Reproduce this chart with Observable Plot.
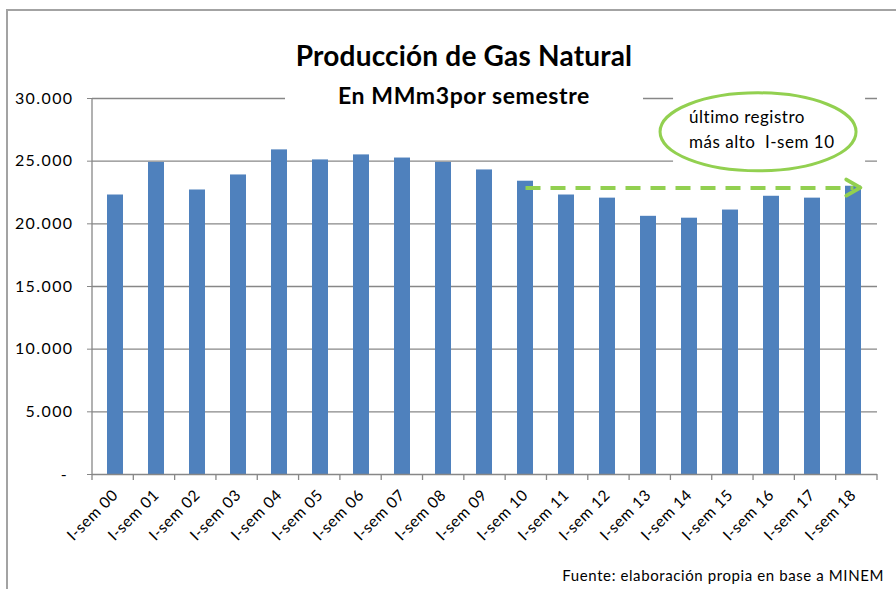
<!DOCTYPE html>
<html>
<head>
<meta charset="utf-8">
<script src="https://cdn.jsdelivr.net/npm/d3@7"></script>
<script src="https://cdn.jsdelivr.net/npm/@observablehq/plot@0.6"></script>
<style>
  html, body { margin: 0; padding: 0; background: #fff; }
  #wrap { position: relative; width: 896px; height: 589px; overflow: hidden; font-family: Lato, "Open Sans", sans-serif; }
  #frame { position: absolute; left: 6px; top: 9px; width: 1200px; height: 1200px; border-left: 2px solid #a3a3a3; border-top: 2px solid #a3a3a3; }
  #chart { position: absolute; left: 0; top: 0; }
  #head { position: absolute; left: 285px; width: 358px; top: 38px; height: 72px; background: #fff; text-align: center; color: #000; font-weight: 700; }
  #title { font-size: 28px; line-height: 34px; letter-spacing: 0.2px; }
  #subtitle { font-size: 23px; line-height: 30px; letter-spacing: 0.6px; margin-top: 8px; }
  #caption { position: absolute; right: 12px; top: 566px; font-size: 15px; letter-spacing: 0.6px; color: #000; }
</style>
</head>
<body>
<div id="wrap">
  <div id="frame"></div>
  <div id="chart"></div>
  <div id="head">
    <div id="title">Producción de Gas Natural</div>
    <div id="subtitle">En MMm3por semestre</div>
  </div>
  <div id="caption">Fuente: elaboración propia en base a MINEM</div>
</div>
<script>
// ---- data ----
const categories = ["I-sem 00","I-sem 01","I-sem 02","I-sem 03","I-sem 04","I-sem 05","I-sem 06","I-sem 07","I-sem 08","I-sem 09","I-sem 10","I-sem 11","I-sem 12","I-sem 13","I-sem 14","I-sem 15","I-sem 16","I-sem 17","I-sem 18"];
const values = [22300, 24900, 22700, 23900, 25900, 25100, 25500, 25250, 24900, 24300, 23400, 22300, 22050, 20600, 20450, 21100, 22200, 22050, 23000];
const yTicks = [0, 5000, 10000, 15000, 20000, 25000, 30000];
const arrowFrom = "I-sem 10";
const arrowTo = "I-sem 18";
const arrowLevel = 22850;
const noteLines = ["último registro", "más alto  I-sem 10"];
const noteLevel = 27300;

const data = categories.map((c, i) => ({cat: c, value: values[i]}));
const arrowData = [{from: arrowFrom, to: arrowTo, level: arrowLevel}];

const gray = "#878787";
const green = "#92D050";
const fmt = d => d === 0 ? "-\u00a0" : d3.format(",")(d).replace(/,/g, ".");

function bandGeom(dims) {
  const x0 = dims.marginLeft, x1 = dims.width - dims.marginRight;
  const step = (x1 - x0) / categories.length;
  const center = c => x0 + (categories.indexOf(c) + 0.5) * step;
  return {x0, x1, step, center};
}

// axis lines and category-boundary ticks (Excel style)
function axisFrame(index, scales, values, dims) {
  const g = d3.create("svg:g").attr("stroke", gray).attr("stroke-width", 1.3);
  const {x0, step} = bandGeom(dims);
  const yb = scales.y(0), yt = scales.y(30000);
  g.append("line").attr("x1", x0).attr("x2", x0).attr("y1", yt).attr("y2", yb + 6);
  for (let i = 1; i <= categories.length; i++) {
    const xx = x0 + i * step;
    g.append("line").attr("x1", xx).attr("x2", xx).attr("y1", yb).attr("y2", yb + 6);
  }
  return g.node();
}

// callout ellipse with text
function callout(index, scales, values, dims) {
  const g = d3.create("svg:g");
  const {center} = bandGeom(dims);
  const cx = (center("I-sem 14") + center("I-sem 17")) / 2 + 5;
  const cy = scales.y(noteLevel);
  g.append("rect").attr("x", cx - 85).attr("width", 192)
    .attr("y", scales.y(30000) - 3).attr("height", scales.y(25000) - scales.y(30000) + 6)
    .attr("fill", "#fff");
  g.append("ellipse").attr("cx", cx).attr("cy", cy).attr("rx", 98).attr("ry", 39)
    .attr("fill", "#fff").attr("stroke", green).attr("stroke-width", 3);
  const t = g.append("text").attr("font-size", 17).attr("fill", "#000")
    .attr("text-anchor", "start").attr("letter-spacing", 0.5)
    .attr("font-family", "Lato, sans-serif");
  noteLines.forEach((s, i) => {
    t.append("tspan").attr("x", cx - 69).attr("y", cy - 9 + i * 25)
      .style("white-space", "pre").text(s);
  });
  return g.node();
}

// arrow head for the dashed arrow
function arrowHead(index, scales, values, dims) {
  const {center} = bandGeom(dims);
  const ex = center(arrowTo) + 4, ey = scales.y(arrowLevel);
  return d3.create("svg:path")
    .attr("d", `M${ex - 14},${ey - 8}L${ex},${ey}L${ex - 14},${ey + 8}`)
    .attr("fill", "none").attr("stroke", green).attr("stroke-width", 4)
    .attr("stroke-linecap", "round").attr("stroke-linejoin", "round").node();
}

const chart = Plot.plot({
  width: 896,
  height: 589,
  marginLeft: 92,
  marginRight: 19,
  marginTop: 98,
  marginBottom: 115,
  style: {fontFamily: "Lato, sans-serif", background: "transparent", color: "#000"},
  x: {domain: categories, paddingInner: 0.6, paddingOuter: 0.3, label: null},
  y: {domain: [0, 30000], label: null},
  marks: [
    Plot.gridY(yTicks.filter(d => d > 0), {stroke: gray, strokeOpacity: 1, strokeWidth: 1.3}),
    callout,
    Plot.barY(data, {x: "cat", y: "value", fill: "#4F81BD"}),
    Plot.ruleY([0], {stroke: gray, strokeWidth: 1.3}),
    axisFrame,
    Plot.axisY({ticks: yTicks, tickFormat: fmt, tickSize: 5, tickPadding: 14, fontSize: 16, stroke: gray, fill: "#000", label: null}),
    Plot.axisX({tickSize: 0, tickRotate: -45, tickPadding: 18, fontSize: 15.5, fill: "#000", label: null}),
    Plot.link(arrowData, {x1: "from", x2: "to", y1: "level", y2: "level", stroke: green, strokeWidth: 4, strokeDasharray: "15,10"}),
    arrowHead
  ]
});
document.getElementById("chart").appendChild(chart);
// letter spacing on axis labels to approximate the wider original face
chart.querySelectorAll("g[aria-label='y-axis tick label'] text").forEach(t => t.setAttribute("letter-spacing", "1.4"));
chart.querySelectorAll("g[aria-label='x-axis tick label'] text").forEach(t => t.setAttribute("letter-spacing", "0.6"));
</script>
</body>
</html>
